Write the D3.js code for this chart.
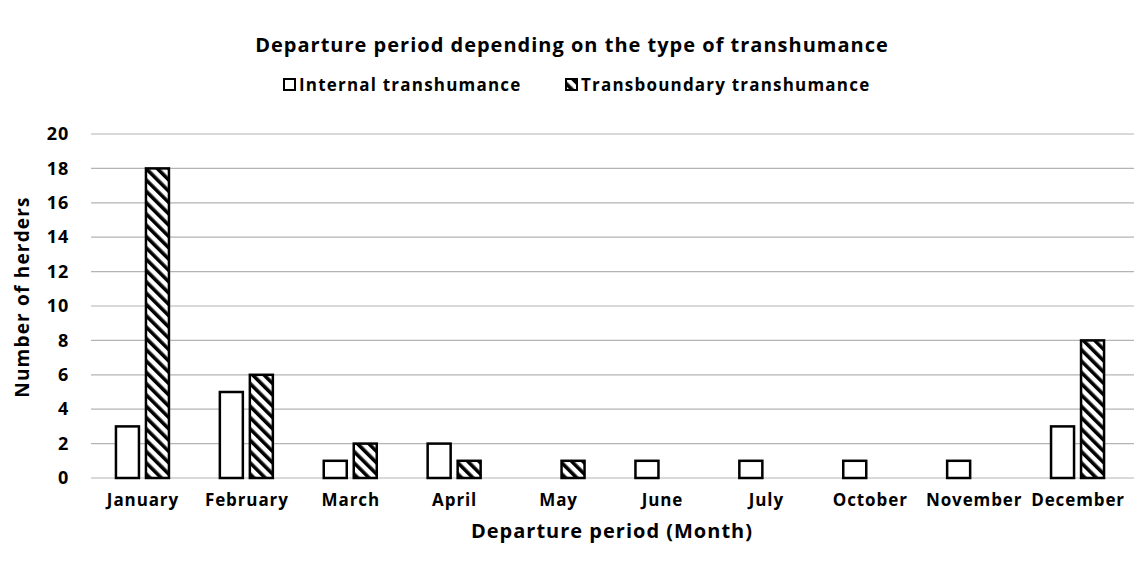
<!DOCTYPE html>
<html>
<head>
<meta charset="utf-8">
<script src="https://cdn.jsdelivr.net/npm/d3@7"></script>
<style>
  body { margin: 0; background: #fff; }
  text { font-family: "Open Sans", Lato, sans-serif; font-weight: bold; fill: #000; }
</style>
</head>
<body>
<svg id="chart"></svg>
<script>
// data
const months = ["January", "February", "March", "April", "May", "June", "July", "October", "November", "December"];
const internal = [3, 5, 1, 2, 0, 1, 1, 1, 1, 3];
const transboundary = [18, 6, 2, 1, 1, 0, 0, 0, 0, 8];
const seriesNames = ["Internal transhumance", "Transboundary transhumance"];
const yTicks = [0, 2, 4, 6, 8, 10, 12, 14, 16, 18, 20];

const W = 1138, H = 568;
const margin = {top: 134, right: 4, bottom: 90, left: 91};
const width = W - margin.left - margin.right;
const height = H - margin.top - margin.bottom;

const svg = d3.select("#chart").attr("width", W).attr("height", H);

// hatch pattern
const defs = svg.append("defs");
const pat = defs.append("pattern")
    .attr("id", "hatch")
    .attr("patternUnits", "userSpaceOnUse")
    .attr("width", 8).attr("height", 8)
    .attr("patternTransform", "rotate(-45)");
pat.append("rect").attr("width", 8).attr("height", 8).attr("fill", "#fff");
pat.append("rect").attr("x", 0).attr("width", 3.6).attr("height", 8).attr("fill", "#000");

const chart = svg.append("g").attr("transform", `translate(${margin.left},${margin.top})`);

const x = d3.scaleBand().domain(months).range([0, width - 4]).paddingInner(0).paddingOuter(0);
const y = d3.scaleLinear().domain([0, 20]).range([height, 0]);

// gridlines
chart.append("g").selectAll("line")
  .data(yTicks)
  .join("line")
    .attr("x1", 0).attr("x2", width)
    .attr("y1", d => y(d)).attr("y2", d => y(d))
    .attr("stroke", "#b4b4b4")
    .attr("stroke-width", 1.2);

// y axis labels
const yAxis = d3.axisLeft(y).tickValues(yTicks).tickSize(0).tickPadding(22);
chart.append("g").call(yAxis)
  .call(g => g.select(".domain").remove())
  .selectAll("text")
    .style("font-size", "18px")
    .style("font-family", "'Open Sans', sans-serif")
    .style("font-weight", "bold")
    .style("letter-spacing", "0.8px");

// bars
const barW = 23, gap = 7;
const groups = chart.append("g").selectAll("g")
  .data(months)
  .join("g")
    .attr("transform", d => `translate(${x(d) + x.bandwidth() / 2},0)`);

groups.append("rect")
    .attr("x", -barW - gap / 2 - 0.5)
    .attr("y", (d, i) => y(internal[i]))
    .attr("width", barW)
    .attr("height", (d, i) => y(0) - y(internal[i]))
    .attr("fill", "#fff")
    .attr("stroke", "#000")
    .attr("stroke-width", 2.5)
    .style("display", (d, i) => internal[i] > 0 ? null : "none");

groups.append("rect")
    .attr("x", gap / 2 - 0.5)
    .attr("y", (d, i) => y(transboundary[i]))
    .attr("width", barW)
    .attr("height", (d, i) => y(0) - y(transboundary[i]))
    .attr("fill", "url(#hatch)")
    .attr("stroke", "#000")
    .attr("stroke-width", 2.5)
    .style("display", (d, i) => transboundary[i] > 0 ? null : "none");

// x axis labels
const xAxis = d3.axisBottom(x).tickSize(0).tickPadding(16);
chart.append("g").attr("transform", `translate(0,${height})`).call(xAxis)
  .call(g => g.select(".domain").remove())
  .selectAll("text")
    .style("font-size", "17px")
    .style("font-family", "'Open Sans', sans-serif")
    .style("font-weight", "bold")
    .style("letter-spacing", "0.9px");

// titles
svg.append("text")
    .attr("x", 572).attr("y", 52)
    .attr("text-anchor", "middle")
    .style("font-size", "20px")
    .style("letter-spacing", "1px")
    .text("Departure period depending on the type of transhumance");

svg.append("text")
    .attr("x", 612).attr("y", 538)
    .attr("text-anchor", "middle")
    .style("font-size", "20px")
    .style("letter-spacing", "1px")
    .text("Departure period (Month)");

svg.append("text")
    .attr("transform", `translate(29,297) rotate(-90)`)
    .attr("text-anchor", "middle")
    .style("font-size", "19px")
    .style("letter-spacing", "1.2px")
    .text("Number of herders");

// legend
const legendX = [283, 565];
const legend = svg.append("g").selectAll("g")
  .data(seriesNames)
  .join("g")
    .attr("transform", (d, i) => `translate(${legendX[i]},85)`);
legend.append("rect")
    .attr("x", 1).attr("y", -6).attr("width", 11).attr("height", 11)
    .attr("fill", (d, i) => i === 0 ? "#fff" : "url(#hatch)")
    .attr("stroke", "#000").attr("stroke-width", 2);
legend.append("text")
    .attr("x", 16).attr("y", 6)
    .style("font-size", "17px")
    .style("letter-spacing", "1.2px")
    .text(d => d);
</script>
</body>
</html>
